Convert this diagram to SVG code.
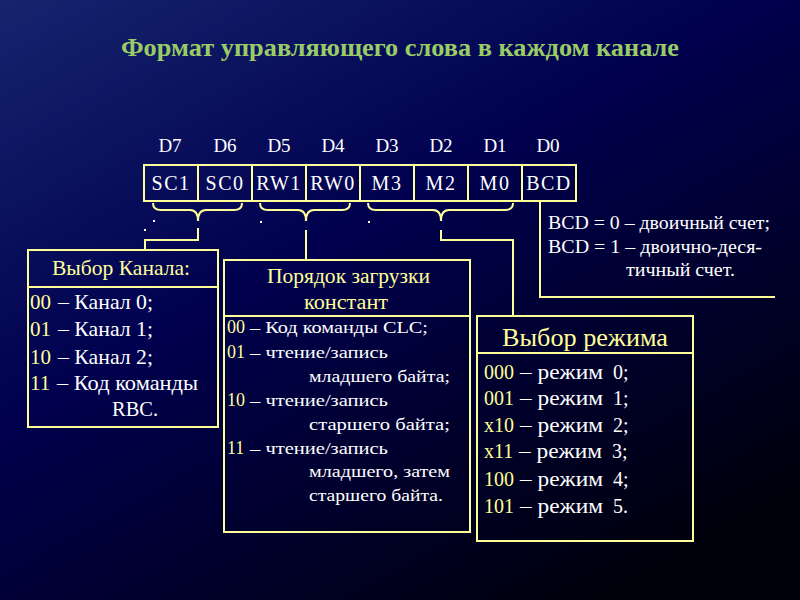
<svg xmlns="http://www.w3.org/2000/svg" width="800" height="600" viewBox="0 0 800 600">
<defs>
<linearGradient id="bg" x1="0" y1="0" x2="0.75" y2="1">
<stop offset="0" stop-color="#16246e"/>
<stop offset="0.45" stop-color="#00004e"/>
<stop offset="1" stop-color="#00000c"/>
</linearGradient>
<style>
.t{font-family:"Liberation Serif","Times New Roman",serif;}
.title{font-size:25px;font-weight:bold;fill:#99cc66;}
.w{fill:#ffffff;}
.y{fill:#ffff99;}
.box{fill:none;stroke:#ffff99;stroke-width:2;}
.ln{fill:none;stroke:#ffff99;stroke-width:2;}
.cell{font-size:20px;fill:#ffffff;letter-spacing:1.5px;}
.dl{font-size:19px;fill:#ffffff;}
.b1{font-size:21px;}
.b2{font-size:17px;}
.n2{font-size:18px;}
.b3{font-size:20px;}
.bcd{font-size:18px;fill:#ffffff;}
</style>
</defs>
<rect x="0" y="0" width="800" height="600" fill="url(#bg)"/>

<text class="t title" x="121" y="56" textLength="558" lengthAdjust="spacingAndGlyphs">Формат управляющего слова в каждом канале</text>

<g id="register">
<g class="t dl" text-anchor="middle">
<text x="170" y="152">D7</text>
<text x="225" y="152">D6</text>
<text x="279" y="152">D5</text>
<text x="333" y="152">D4</text>
<text x="387" y="152">D3</text>
<text x="441" y="152">D2</text>
<text x="495" y="152">D1</text>
<text x="548" y="152">D0</text>
</g>
<rect class="box" x="144" y="165" width="432" height="36"/>
<path class="ln" d="M198,165V201M252,165V201M306,165V201M360,165V201M414,165V201M468,165V201M522,165V201"/>
<g class="t cell" text-anchor="middle">
<text x="171" y="190">SC1</text>
<text x="225" y="190">SC0</text>
<text x="279" y="190">RW1</text>
<text x="333" y="190">RW0</text>
<text x="387" y="190">M3</text>
<text x="441" y="190">M2</text>
<text x="495" y="190">M0</text>
<text x="549" y="190">BCD</text>
</g>
</g>

<g id="connectors">
<path class="ln" d="M153,203 Q153,210 161,210 L190,210 Q198,210 198,221 Q198,210 206,210 L234,210 Q242,210 242,203"/>
<path class="ln" d="M260,203 Q260,210 268,210 L298,210 Q306,210 306,221 Q306,210 314,210 L342,210 Q350,210 350,203"/>
<path class="ln" d="M368,203 Q368,210 376,210 L433,210 Q441,210 441,221 Q441,210 449,210 L505,210 Q513,210 513,203"/>
<path class="ln" d="M198,228 V240 H145 V250"/>
<path class="ln" d="M306,230 V260"/>
<path class="ln" d="M441,230 V240 H513 V316"/>
<path class="ln" d="M540,201 V297 H775"/>
<g fill="#ffffff">
<rect x="153" y="220" width="2" height="2"/>
<rect x="144" y="229" width="2" height="2"/>
<rect x="260" y="221" width="2" height="2"/>
<rect x="368" y="221" width="2" height="2"/>
</g>
</g>

<g id="bcd-note" class="t bcd">
<text x="548" y="229" textLength="222" lengthAdjust="spacingAndGlyphs">BCD = 0 – двоичный счет;</text>
<text x="548" y="253" textLength="214" lengthAdjust="spacingAndGlyphs">BCD = 1 – двоично-деся-</text>
<text x="626" y="276" textLength="109" lengthAdjust="spacingAndGlyphs">тичный счет.</text>
</g>

<g id="channel-select">
<rect class="box" x="28" y="250" width="190" height="177"/>
<path class="ln" d="M28,287 H218"/>
<text class="t b1 y" x="52" y="275" textLength="138" lengthAdjust="spacingAndGlyphs">Выбор Канала:</text>
<g class="t b1">
<text x="30" y="309"><tspan class="y">00</tspan><tspan class="w" x="58" textLength="95" lengthAdjust="spacingAndGlyphs">– Канал 0;</tspan></text>
<text x="30" y="336"><tspan class="y">01</tspan><tspan class="w" x="58" textLength="95" lengthAdjust="spacingAndGlyphs">– Канал 1;</tspan></text>
<text x="30" y="364"><tspan class="y">10</tspan><tspan class="w" x="58" textLength="95" lengthAdjust="spacingAndGlyphs">– Канал 2;</tspan></text>
<text x="30" y="390"><tspan class="y">11</tspan><tspan class="w" x="57" textLength="141" lengthAdjust="spacingAndGlyphs">– Код команды</tspan></text>
<text class="w" x="112" y="416" textLength="46" lengthAdjust="spacingAndGlyphs">RBC.</text>
</g>
</g>

<g id="load-order">
<rect class="box" x="224" y="260" width="246" height="272"/>
<path class="ln" d="M224,316 H470"/>
<g class="t y" font-size="20">
<text x="267" y="283" textLength="163" lengthAdjust="spacingAndGlyphs">Порядок загрузки</text>
<text x="304" y="309" textLength="84" lengthAdjust="spacingAndGlyphs">констант</text>
</g>
<g class="t b2">
<text x="227" y="333"><tspan class="y n2">00</tspan><tspan class="w" x="250" textLength="178" lengthAdjust="spacingAndGlyphs">– Код команды CLC;</tspan></text>
<text x="227" y="358"><tspan class="y n2">01</tspan><tspan class="w" x="250" textLength="138" lengthAdjust="spacingAndGlyphs">– чтение/запись</tspan></text>
<text class="w" x="309" y="382" textLength="141" lengthAdjust="spacingAndGlyphs">младшего байта;</text>
<text x="227" y="406"><tspan class="y n2">10</tspan><tspan class="w" x="250" textLength="138" lengthAdjust="spacingAndGlyphs">– чтение/запись</tspan></text>
<text class="w" x="309" y="430" textLength="141" lengthAdjust="spacingAndGlyphs">старшего байта;</text>
<text x="227" y="454"><tspan class="y n2">11</tspan><tspan class="w" x="250" textLength="138" lengthAdjust="spacingAndGlyphs">– чтение/запись</tspan></text>
<text class="w" x="309" y="477" textLength="141" lengthAdjust="spacingAndGlyphs">младшего, затем</text>
<text class="w" x="309" y="501" textLength="134" lengthAdjust="spacingAndGlyphs">старшего байта.</text>
</g>
</g>

<g id="mode-select">
<rect class="box" x="477" y="316" width="216" height="225"/>
<path class="ln" d="M477,353 H693"/>
<text class="t y" font-size="25" x="502" y="346" textLength="166" lengthAdjust="spacingAndGlyphs">Выбор режима</text>
<g class="t b3">
<text x="484" y="379"><tspan class="y">000</tspan><tspan class="w" x="520" textLength="83" lengthAdjust="spacingAndGlyphs">– режим</tspan><tspan class="w" x="613">0;</tspan></text>
<text x="484" y="405"><tspan class="y">001</tspan><tspan class="w" x="520" textLength="83" lengthAdjust="spacingAndGlyphs">– режим</tspan><tspan class="w" x="613">1;</tspan></text>
<text x="484" y="432"><tspan class="y">x10</tspan><tspan class="w" x="520" textLength="83" lengthAdjust="spacingAndGlyphs">– режим</tspan><tspan class="w" x="613">2;</tspan></text>
<text x="484" y="458"><tspan class="y">x11</tspan><tspan class="w" x="519" textLength="83" lengthAdjust="spacingAndGlyphs">– режим</tspan><tspan class="w" x="612">3;</tspan></text>
<text x="484" y="486"><tspan class="y">100</tspan><tspan class="w" x="520" textLength="83" lengthAdjust="spacingAndGlyphs">– режим</tspan><tspan class="w" x="613">4;</tspan></text>
<text x="484" y="513"><tspan class="y">101</tspan><tspan class="w" x="520" textLength="83" lengthAdjust="spacingAndGlyphs">– режим</tspan><tspan class="w" x="613">5.</tspan></text>
</g>
</g>
</svg>
